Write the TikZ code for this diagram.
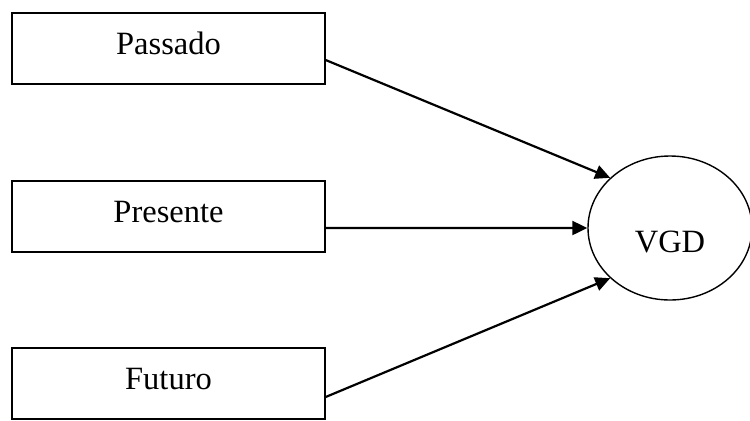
\documentclass[tikz,border=0pt]{standalone}
\usepackage{fontspec}
\setmainfont{Liberation Serif}
\usetikzlibrary{arrows.meta,shapes.geometric}
\definecolor{ink}{RGB}{0,0,0}

\begin{document}
\begin{tikzpicture}[x=1bp,y=-1bp,
  font=\fontsize{32.5bp}{39bp}\selectfont,
  fase/.style={draw=ink,line width=1.3bp,minimum width=313bp,minimum height=71bp,inner sep=0pt,text depth=10bp},
  seta/.style={ink,line width=2.2bp,-{Triangle[length=15bp,width=14bp]}}]
\useasboundingbox (0,0) rectangle (750,420);
\node[fase] (passado) at (168.5,48.5) {Passado};
\node[fase] (presente) at (168.5,216.5) {Presente};
\node[fase] (futuro) at (168.5,383.5) {Futuro};
\node[draw=ink,ellipse,line width=1.4bp,minimum width=164bp,minimum height=144bp,inner sep=0pt,text height=48bp,text depth=0pt] (vgd) at (670,228) {VGD};
\draw[seta] ([yshift=-11.5bp]passado.east) -- (vgd.140);
\draw[seta] ([yshift=-11.5bp]presente.east) -- (vgd.west);
\draw[seta] ([yshift=-13.5bp]futuro.east) -- (vgd.220);
\end{tikzpicture}
\end{document}
